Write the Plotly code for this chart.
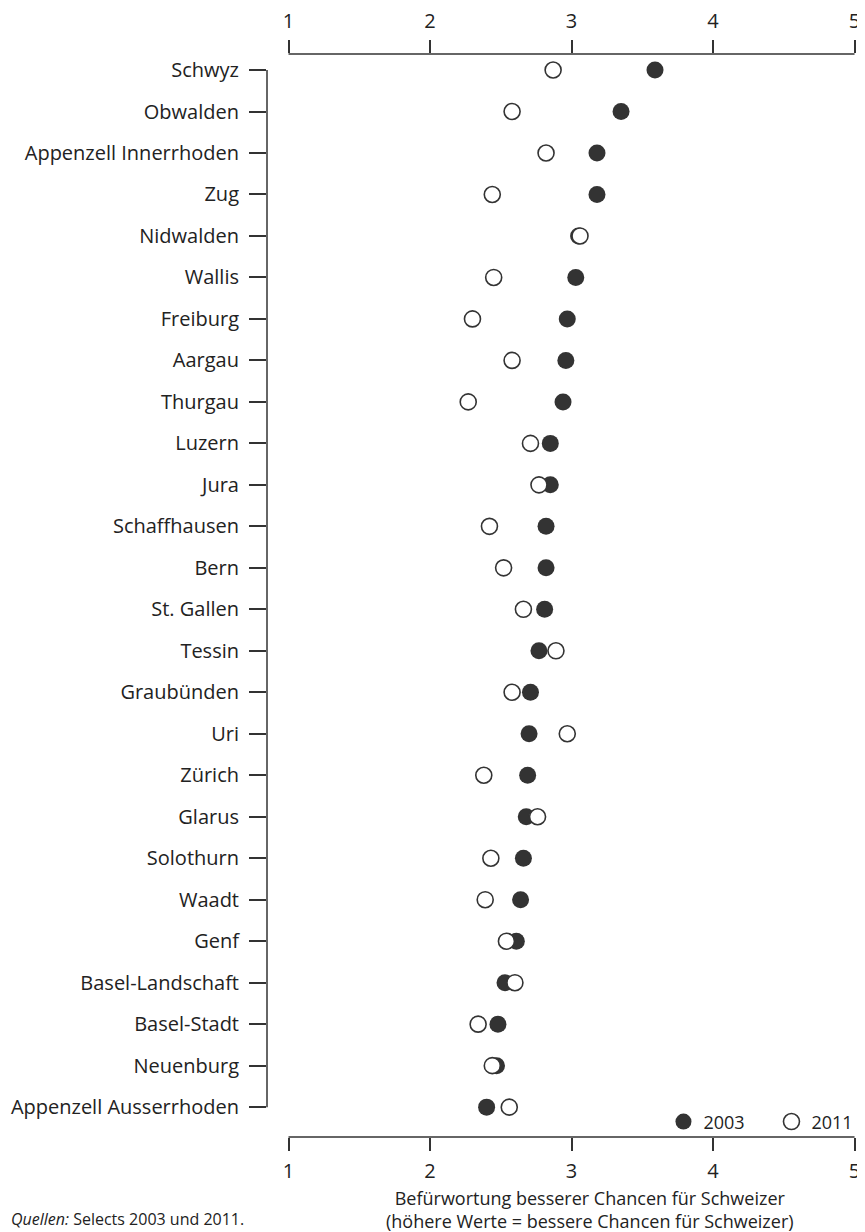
import plotly.graph_objects as go

# Kantone, von oben nach unten
kantone = ['Schwyz', 'Obwalden', 'Appenzell Innerrhoden', 'Zug', 'Nidwalden', 'Wallis',
           'Freiburg', 'Aargau', 'Thurgau', 'Luzern', 'Jura', 'Schaffhausen', 'Bern',
           'St. Gallen', 'Tessin', 'Graubünden', 'Uri', 'Zürich', 'Glarus', 'Solothurn',
           'Waadt', 'Genf', 'Basel-Landschaft', 'Basel-Stadt', 'Neuenburg',
           'Appenzell Ausserrhoden']
werte_2003 = [3.59, 3.35, 3.18, 3.18, 3.05, 3.03, 2.97, 2.96, 2.94, 2.85, 2.85, 2.82, 2.82,
              2.81, 2.77, 2.71, 2.70, 2.69, 2.68, 2.66, 2.64, 2.61, 2.53, 2.48, 2.47, 2.40]
werte_2011 = [2.87, 2.58, 2.82, 2.44, 3.06, 2.45, 2.30, 2.58, 2.27, 2.71, 2.77, 2.42, 2.52,
              2.66, 2.89, 2.58, 2.97, 2.38, 2.76, 2.43, 2.39, 2.54, 2.60, 2.34, 2.44, 2.56]
x_ticks = [1, 2, 3, 4, 5]

ink = '#333333'
font = 'Open Sans'
x_range = [0.848, 5.074]

data = [
    go.Scatter(x=werte_2003, y=kantone, mode='markers', name='2003',
               marker=dict(size=17, color=ink, line=dict(width=0))),
    go.Scatter(x=werte_2011, y=kantone, mode='markers', name='2011',
               marker=dict(size=16, color='white', line=dict(width=1.6, color=ink))),
    # unsichtbare Spur, damit die obere Achse gezeichnet wird
    go.Scatter(x=werte_2011, y=kantone, xaxis='x2', mode='markers', showlegend=False,
               hoverinfo='skip', marker=dict(opacity=0)),
]

axis_common = dict(range=x_range, tickvals=x_ticks, ticks='outside', ticklen=13,
                   tickwidth=1.5, tickcolor=ink, showline=False, showgrid=False,
                   zeroline=False)

# the page body adds 8px, so the figure is 8px smaller than the window
layout = go.Layout(
    width=857, height=1224,
    margin=dict(l=259, r=0, t=46, b=95, autoexpand=False),
    paper_bgcolor='white', plot_bgcolor='white',
    font=dict(family=font, size=20, color='#222222'),
    showlegend=True,
    legend=dict(orientation='h', x=0.663, xanchor='left', y=0.014, yanchor='middle',
                bgcolor='rgba(0,0,0,0)', entrywidth=63, entrywidthmode='pixels',
                font=dict(size=18), itemclick=False),
    xaxis=dict(**axis_common, ticklabelstandoff=3),
    xaxis2=dict(**axis_common, side='top', overlaying='x', anchor='y',
                ticklabelstandoff=4),
    yaxis=dict(categoryorder='array', categoryarray=kantone, range=[25.72, -0.386],
               ticks='outside', ticklen=17, tickwidth=1.5, tickcolor=ink,
               showline=False, showgrid=False, zeroline=False, ticklabelstandoff=6),
    shapes=[
        dict(type='line', xref='x', yref='paper', x0=1, x1=5, y0=1, y1=1,
             line=dict(color=ink, width=1.5)),
        dict(type='line', xref='x', yref='paper', x0=1, x1=5, y0=0, y1=0,
             line=dict(color=ink, width=1.5)),
        dict(type='line', xref='paper', yref='y', x0=0, x1=0, y0=0, y1=len(kantone) - 1,
             line=dict(color=ink, width=1.5)),
    ],
    annotations=[
        dict(text='Befürwortung besserer Chancen für Schweizer<br>'
                  '(höhere Werte = bessere Chancen für Schweizer)',
             xref='paper', yref='paper', x=0.540, y=0, yshift=-47, xanchor='center',
             yanchor='top', showarrow=False, font=dict(size=18)),
        dict(text='<i>Quellen:</i> Selects 2003 und 2011.', xref='paper', yref='paper',
             x=-0.431, y=0, yshift=-82, xanchor='left', yanchor='middle', showarrow=False,
             font=dict(size=16)),
    ],
)

fig = go.Figure(data=data, layout=layout)
fig.write_html('out.html')
